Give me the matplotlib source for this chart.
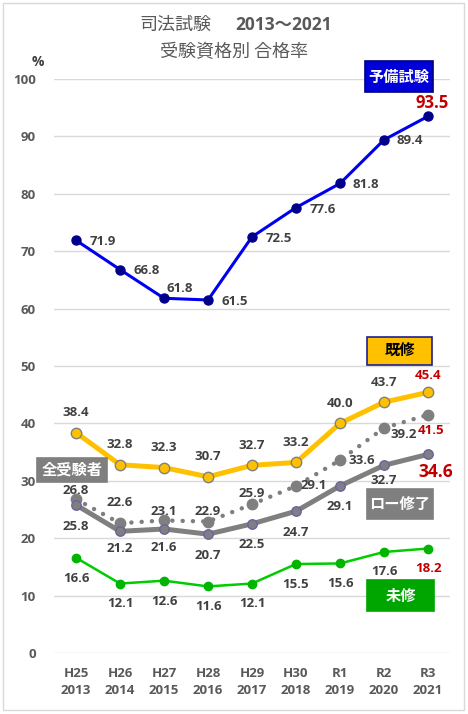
import matplotlib.pyplot as plt
from matplotlib.patches import Rectangle

plt.rcParams['font.family'] = ['Open Sans', 'Noto Sans CJK JP', 'DejaVu Sans']

# data
eras = ['H25', 'H26', 'H27', 'H28', 'H29', 'H30', 'R1', 'R2', 'R3']
years = ['2013', '2014', '2015', '2016', '2017', '2018', '2019', '2020', '2021']
yobi = [71.9, 66.8, 61.8, 61.5, 72.5, 77.6, 81.8, 89.4, 93.5]      # 予備試験
kishu = [38.4, 32.8, 32.3, 30.7, 32.7, 33.2, 40.0, 43.7, 45.4]     # 既修
zentai = [26.8, 22.6, 23.1, 22.9, 25.9, 29.1, 33.6, 39.2, 41.5]    # 全受験者
law = [25.8, 21.2, 21.6, 20.7, 22.5, 24.7, 29.1, 32.7, 34.6]       # ロー修了
mishu = [16.6, 12.1, 12.6, 11.6, 12.1, 15.5, 15.6, 17.6, 18.2]     # 未修

W, H = 468, 714
TXT = '#404040'
RED = '#C00000'

def fx(px):
    return px / W

def fy(py):
    return 1 - py / H

fig = plt.figure(figsize=(W / 100, H / 100), dpi=100)
ax = fig.add_axes([fx(54), fy(653), 396 / W, 574 / H])
x = list(range(len(eras)))

# grid / axes
ax.set_xlim(-0.5, 8.5)
ax.set_ylim(0, 100)
ax.set_yticks(range(0, 101, 10))
ax.grid(axis='y', color='#D9D9D9', linewidth=1)
ax.set_axisbelow(True)
for s in ax.spines.values():
    s.set_visible(False)
ax.tick_params(length=0)
ax.tick_params(axis='y', pad=13, labelsize=9.5, labelcolor='#595959')
ax.tick_params(axis='x', pad=10, labelsize=9.5, labelcolor='#595959')
for t in ax.get_yticklabels():
    t.set_fontweight('bold')
ax.set_xticks(x)
ax.set_xticklabels([e + '\n' + y for e, y in zip(eras, years)],
                   fontweight='bold', linespacing=1.45)

# lines
ax.plot(x, zentai, color='#7F7F7F', lw=3.2, linestyle=(0, (0.01, 2.3)),
        dash_capstyle='round', marker='o', ms=7.5, mfc='#7F7F7F', mec='#7F7F7F',
        clip_on=False, zorder=3)
ax.plot(x, law, color='#7F7F7F', lw=3.6, marker='o', ms=6.8, mfc='#7F7F7F',
        mec='#7060A0', mew=1, clip_on=False, zorder=4)
ax.plot(x, kishu, color='#FFC000', lw=3.6, marker='o', ms=7.5, mfc='#FFC000',
        mec='#808080', mew=1, clip_on=False, zorder=4)
ax.plot(x, yobi, color='#0000F0', lw=2.2, marker='o', ms=6.5, mfc='#00008B',
        mec='#00008B', clip_on=False, zorder=4)
ax.plot(x, mishu, color='#00CC00', lw=1.8, marker='o', ms=6, mfc='#00B400',
        mec='#00B400', clip_on=False, zorder=4)

# data labels (offsets in pixels)
yobi_off = [(27, -1), (27, -1), (16, 10), (27, -2), (27, -2), (27, -2), (26, -1), (26, -1), (4, 13)]
kishu_off = [(0, 20)] * 8 + [(0, 17)]
zentai_off = [(0, 9), (0, 21), (0, 9), (0, 10), (0, 11), (18, 0), (22, 0), (20, -7), (3, -16)]
law_off = [(0, -22), (0, -17), (0, -18), (0, -21), (0, -21), (0, -21), (0, -21), (0, -15), (8, -18)]
mishu_off = [(0, -21), (0, -20), (0, -21), (0, -20), (0, -20), (0, -20), (0, -20), (0, -20), (0, -20)]

def labels(vals, offs, last_size=9.5):
    for i, (v, o) in enumerate(zip(vals, offs)):
        last = i == len(vals) - 1
        ax.annotate(f'{v:.1f}', (i, v), xytext=o, textcoords='offset pixels',
                    ha='center', va='center', fontweight='bold',
                    fontsize=last_size if last else 9.5,
                    color=RED if last else TXT, zorder=6, annotation_clip=False)

labels(yobi, yobi_off, 12)
labels(kishu, kishu_off)
labels(zentai, zentai_off)
labels(law, law_off, 12.5)
labels(mishu, mishu_off)

# series name boxes (pixel boxes: left, top, right, bottom)
def namebox(text, l, t, r, b, fc, ec, tc, size=11):
    fig.patches.append(Rectangle((fx(l), fy(b)), (r - l) / W, (b - t) / H,
                                 transform=fig.transFigure, fc=fc, ec=ec,
                                 lw=1.2, zorder=8))
    fig.text(fx((l + r) / 2), fy((t + b) / 2), text, ha='center', va='center',
             color=tc, fontsize=size, fontweight='bold', zorder=9,
             family=['Noto Sans CJK JP', 'DejaVu Sans'])

namebox('予備試験', 365, 61, 433, 92, '#0000D8', '#000080', 'white')
namebox('既修', 367, 337, 432, 365, '#FFC000', '#1F1F8F', 'black')
namebox('全受験者', 37, 458, 107, 482, '#7F7F7F', '#7F7F7F', 'white')
namebox('ロー修了', 367, 489, 433, 519, '#7F7F7F', '#7F7F7F', 'white')
namebox('未修', 367, 580, 434, 611, '#00A600', '#00A600', 'white')

# title and unit
fig.text(fx(175), fy(25), '司法試験', ha='center', va='center', fontsize=13,
         color='#595959', family=['Noto Sans CJK JP', 'DejaVu Sans'])
fig.text(fx(284), fy(25), '2013～2021', ha='center', va='center', fontsize=12.5,
         color='#595959', fontweight='bold')
fig.text(fx(234), fy(52), '受験資格別 合格率', ha='center', va='center', fontsize=13,
         color='#595959', family=['Noto Sans CJK JP', 'DejaVu Sans'])
fig.text(fx(38), fy(62), '%', ha='center', va='center', fontsize=10,
         color='#404040', fontweight='bold')

# outer border
fig.patches.append(Rectangle((fx(3), fy(710)), 461 / W, 707 / H,
                             transform=fig.transFigure, fill=False,
                             ec='#D9D9D9', lw=1))

fig.savefig('out.png', dpi=100)
